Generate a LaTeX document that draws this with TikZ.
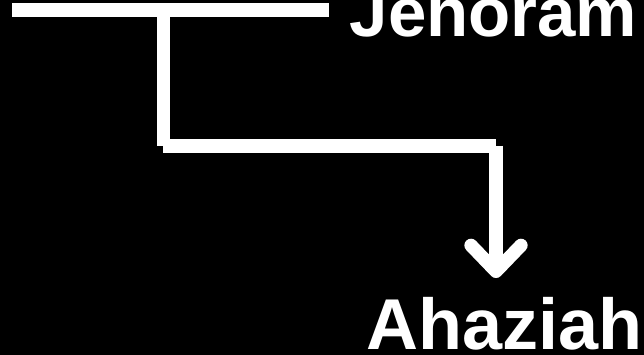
\documentclass[tikz,border=0pt]{standalone}
\usepackage{fontspec}
\setmainfont{Liberation Sans}
\usetikzlibrary{arrows.meta}
\tikzset{
  link/.style={draw=white, line width=13.3pt, line cap=butt},
  arrowlink/.style={link, -{Straight Barb[length=26pt, width=50pt, round]}},
  personname/.style={text=white, inner sep=0pt, font=\bfseries\fontsize{72}{72}\selectfont}
}
\begin{document}
\begin{tikzpicture}[x=1pt, y=1pt]
  \fill[black] (0,0) rectangle (644,-355);
  \useasboundingbox (0,0) rectangle (644,-355);
  \node[personname, font=\bfseries\fontsize{69}{69}\selectfont, anchor=base west] (jeh) at (349.5,-37) {Jehoram};
  \node[personname, anchor=base west] (ahz) at (366,-349) {Ahaziah};
  \coordinate (jl) at (12,-10);
  \coordinate (jr) at (329,-10);
  \coordinate (mid) at (163.3,-10);
  \coordinate (c1) at (163.3,-146);
  \coordinate (c2) at (496,-146);
  \coordinate (tip) at (496,-278);
  \draw[link] (jl) -- (jr);
  \draw[link] (mid) -- (c1);
  \draw[link] (c1) -- (c2);
  \draw[arrowlink] (c2) -- (tip);
\end{tikzpicture}
\end{document}
